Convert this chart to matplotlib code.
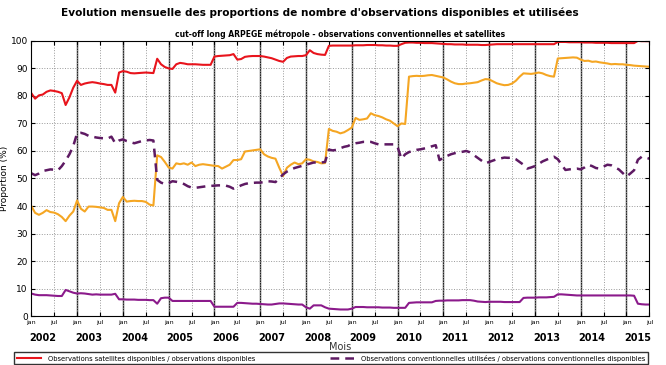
import numpy as np
import matplotlib
matplotlib.use("Agg")
import matplotlib.pyplot as plt
import matplotlib.transforms as mtransforms

# monthly values, Jan 2002 -> Jul 2015 (one row per year)
sat_dispo = [
    81.0, 79.0, 80.2, 80.5, 81.5, 82.0, 81.8, 81.5, 81.0, 76.7, 79.5, 83.0,
    85.5, 84.0, 84.5, 84.8, 85.0, 84.8, 84.5, 84.3, 84.0, 84.0, 81.2, 88.5,
    89.0, 88.8, 88.3, 88.2, 88.3, 88.4, 88.5, 88.4, 88.3, 93.5, 91.5, 90.5,
    90.0, 89.8, 91.5, 92.0, 91.8, 91.5, 91.5, 91.5, 91.4, 91.3, 91.3, 91.3,
    94.3, 94.5, 94.6, 94.7, 94.8, 95.2, 93.2, 93.4, 94.2, 94.4, 94.5, 94.5,
    94.5, 94.3, 94.0, 93.7, 93.2, 92.7, 92.4, 93.8, 94.3, 94.4, 94.5, 94.5,
    94.8, 96.6, 95.6, 95.2, 95.0, 94.9, 98.2, 98.3, 98.3, 98.3, 98.3, 98.3,
    98.3, 98.4, 98.4, 98.4, 98.5, 98.5, 98.5, 98.4, 98.4, 98.3, 98.3, 98.2,
    98.2, 98.8, 99.3, 99.4, 99.4, 99.3, 99.3, 99.2, 99.2, 99.2, 99.1, 99.0,
    98.9, 98.8, 98.8, 98.7, 98.7, 98.7, 98.6, 98.6, 98.6, 98.6, 98.5, 98.5,
    98.6, 98.7, 98.8, 98.8, 98.8, 98.8, 98.8, 98.8, 98.8, 98.8, 98.8, 98.8,
    98.8, 98.8, 98.8, 98.8, 98.8, 98.8, 99.6, 99.6, 99.6, 99.5, 99.5, 99.5,
    99.5, 99.4, 99.4, 99.4, 99.3, 99.3, 99.3, 99.3, 99.2, 99.2, 99.2, 99.2,
    99.2, 99.2, 99.2, 100.0, 99.9, 99.9, 99.9,
]

sat_utilisees = [
    40.0, 37.5, 36.8, 37.5, 38.5, 37.8, 37.6, 37.0, 36.0, 34.5, 36.5, 38.0,
    42.0, 39.0, 38.0, 39.8, 39.8, 39.7, 39.5, 39.3, 38.6, 38.6, 34.5, 41.0,
    43.3, 41.6, 41.8, 41.9, 41.8, 41.8, 41.5, 40.5, 40.2, 58.4, 57.8, 56.0,
    54.0, 53.6, 55.5, 55.2, 55.5, 55.0, 55.8, 54.5, 55.0, 55.2, 55.0, 54.8,
    54.6, 54.5, 53.6, 54.3, 55.0, 56.7, 56.7, 57.0, 59.8, 60.0, 60.2, 60.4,
    60.6, 58.8, 58.0, 57.5, 57.2, 53.9, 50.9, 53.9, 55.0, 55.8, 55.2, 55.5,
    57.0, 56.8, 56.2, 56.0, 55.5, 55.6, 68.0, 67.3, 67.0, 66.4, 66.8, 67.6,
    68.5, 72.0, 71.3, 71.5, 71.8, 73.7, 73.0, 72.7, 72.2, 71.5, 71.0, 70.0,
    69.0, 70.0, 69.8, 87.0, 87.2, 87.3, 87.2, 87.3, 87.5, 87.6, 87.3, 87.0,
    86.7, 86.0, 85.2, 84.6, 84.3, 84.3, 84.5, 84.6, 84.8, 85.0, 85.6, 86.1,
    86.0, 85.3, 84.6, 84.2, 83.9, 84.0, 84.5, 85.5, 87.0, 88.2, 88.1, 88.0,
    88.2, 88.5, 88.2, 87.6, 87.2, 87.0, 93.6, 93.7, 93.8, 93.9, 94.0, 93.9,
    93.2, 92.7, 92.8, 92.4, 92.5, 92.2, 92.0, 91.8, 91.5, 91.6, 91.5, 91.5,
    91.3, 91.2, 91.0, 90.9, 90.8, 90.7, 90.6,
]

conv_utilisees = [
    51.9, 51.2, 51.8, 52.7, 53.0, 53.3, 53.2, 53.0, 54.5, 56.5, 58.8, 61.8,
    66.4, 66.6, 66.2, 65.5, 65.2, 64.9, 64.7, 64.6, 64.5, 65.2, 62.8, 63.8,
    64.2, 63.6, 63.2, 62.8, 63.2, 63.6, 63.8, 64.0, 63.8, 49.5, 48.5, 48.0,
    48.3, 49.0, 48.8, 48.5, 48.0, 47.2, 46.7, 46.6, 46.8, 47.0, 47.2, 47.3,
    47.4, 47.5, 47.5, 47.4, 47.0, 46.3, 46.8, 47.5, 48.0, 48.3, 48.4, 48.5,
    48.5, 48.7, 49.0, 48.9, 48.7, 50.0, 51.5, 52.5, 53.2, 53.8, 54.2, 54.6,
    55.0, 55.4, 55.8, 55.8, 55.8, 56.0, 60.5, 60.2, 60.4, 61.0, 61.5, 61.8,
    62.5, 62.8, 63.0, 63.3, 63.3, 63.3, 62.8, 62.4, 62.4, 62.4, 62.4, 62.4,
    61.5, 57.2, 58.8, 59.6, 60.0, 60.4, 60.6, 60.9, 61.2, 61.7, 62.1, 56.7,
    57.5, 58.2, 58.8, 59.2, 59.5, 59.7, 60.0, 59.5, 58.5, 57.5, 56.5, 55.5,
    56.0, 56.5, 57.0, 57.3, 57.6, 57.5, 57.6, 57.0, 56.0, 55.0, 53.6, 54.0,
    54.5, 55.3, 56.2, 56.8, 57.4, 57.9, 57.0, 55.0, 53.1, 53.3, 53.5, 53.6,
    53.3, 54.0, 55.0, 54.5, 53.8, 53.6, 54.3, 55.0, 54.8, 54.0, 53.3, 52.0,
    50.7, 51.8, 53.0, 56.8, 57.9, 57.6, 57.2,
]

conv_dispo = [
    8.2, 7.8, 7.6, 7.6, 7.6, 7.5, 7.4, 7.3, 7.3, 9.5, 9.0, 8.5,
    8.2, 8.3, 8.2, 8.0, 7.8, 7.9, 7.8, 7.8, 7.8, 7.8, 8.1, 6.1,
    6.1, 6.0, 6.0, 6.0, 5.9, 5.9, 5.9, 5.8, 5.8, 4.5, 6.5, 6.7,
    6.7, 5.5, 5.5, 5.5, 5.5, 5.5, 5.5, 5.5, 5.5, 5.5, 5.5, 5.5,
    3.4, 3.4, 3.4, 3.4, 3.4, 3.4, 4.8, 4.8, 4.7, 4.6, 4.5, 4.5,
    4.4, 4.3, 4.2, 4.2, 4.4, 4.6, 4.6, 4.5, 4.4, 4.3, 4.2, 4.2,
    3.2, 2.7, 3.9, 3.9, 3.9, 3.2, 2.7, 2.6, 2.5, 2.4, 2.4, 2.4,
    2.7, 3.3, 3.3, 3.3, 3.2, 3.2, 3.2, 3.2, 3.1, 3.1, 3.1, 3.0,
    3.0, 3.0, 3.0, 4.8, 4.9, 5.0, 5.0, 5.0, 5.0, 5.0, 5.5, 5.6,
    5.6, 5.7, 5.7, 5.7, 5.7, 5.8, 5.8, 5.8, 5.6, 5.3, 5.2, 5.1,
    5.2, 5.2, 5.2, 5.2, 5.1, 5.1, 5.1, 5.1, 5.1, 6.6, 6.7, 6.7,
    6.7, 6.8, 6.8, 6.8, 6.9, 7.0, 7.9, 7.9, 7.8, 7.7, 7.6, 7.5,
    7.5, 7.5, 7.5, 7.5, 7.5, 7.5, 7.5, 7.5, 7.5, 7.5, 7.5, 7.5,
    7.5, 7.5, 7.4, 4.5, 4.3, 4.2, 4.2,
]

years = list(range(2002, 2016))
month_labels = ["jan", "jul"]

legend_labels = [
    "Observations satellites disponibles / observations disponibles",
    "Observations conventionnelles utilisées / observations conventionnelles disponibles",
]

months = np.arange(len(sat_dispo))

fig = plt.figure(figsize=(6.66, 3.65), dpi=100)
ax = fig.add_axes([0.047, 0.134, 0.928, 0.754])

ax.plot(months, sat_dispo, color="#e8141c", lw=1.5, label=legend_labels[0])
ax.plot(months, sat_utilisees, color="#f5a623", lw=1.5)
ax.plot(months, conv_utilisees, color="#5e1a63", lw=1.8, dashes=(3.5, 2.4),
        label=legend_labels[1])
ax.plot(months, conv_dispo, color="#8b1a8b", lw=1.5)

ax.set_xlim(0, len(sat_dispo) - 1)
ax.set_ylim(0, 100)
ax.set_yticks(np.arange(0, 101, 10))

xt = np.arange(0, len(sat_dispo), 6)
ax.set_xticks(xt)
ax.set_xticklabels([month_labels[(t // 6) % 2] for t in xt], fontsize=4.5)
ax.tick_params(axis="y", labelsize=6.5, length=3, pad=2.5)
ax.tick_params(axis="x", length=3, pad=2.5, top=True, direction="in")
ax.tick_params(axis="y", right=True, direction="in")

# grid: dotted everywhere, solid line at each january
ax.grid(True, linestyle=":", color="#999999", lw=0.7)
for y in range(1, len(years)):
    ax.axvline(12 * y, color="#222222", lw=1.0, zorder=1)

trans = mtransforms.blended_transform_factory(ax.transData, ax.transAxes)
for i, yr in enumerate(years):
    ax.text(12 * i + 3, -0.08, str(yr), transform=trans, ha="center",
            va="center", fontsize=7, fontweight="bold")

ax.text(0.5, -0.113, "Mois", transform=ax.transAxes, ha="center",
        va="center", fontsize=7, color="#333333")
ax.set_ylabel("Proportion (%)", fontsize=6.5)
ax.yaxis.set_label_coords(-0.036, 0.5)

fig.text(0.48, 0.965, "Evolution mensuelle des proportions de nombre "
         "d'observations disponibles et utilisées",
         ha="center", va="center", fontsize=7.6, fontweight="bold")
ax.set_title("cut-off long ARPEGE métropole - observations conventionnelles "
             "et satellites", fontsize=5.5, fontweight="bold", pad=3)

fig.legend(loc="upper left", bbox_to_anchor=(14 / 666, 1 - 352 / 365),
           ncol=2, fontsize=4.9, frameon=True, fancybox=False,
           edgecolor="black", handlelength=3.6, handletextpad=1.0,
           columnspacing=11, borderpad=0.4, borderaxespad=0)

fig.savefig("out.png", dpi=100)
